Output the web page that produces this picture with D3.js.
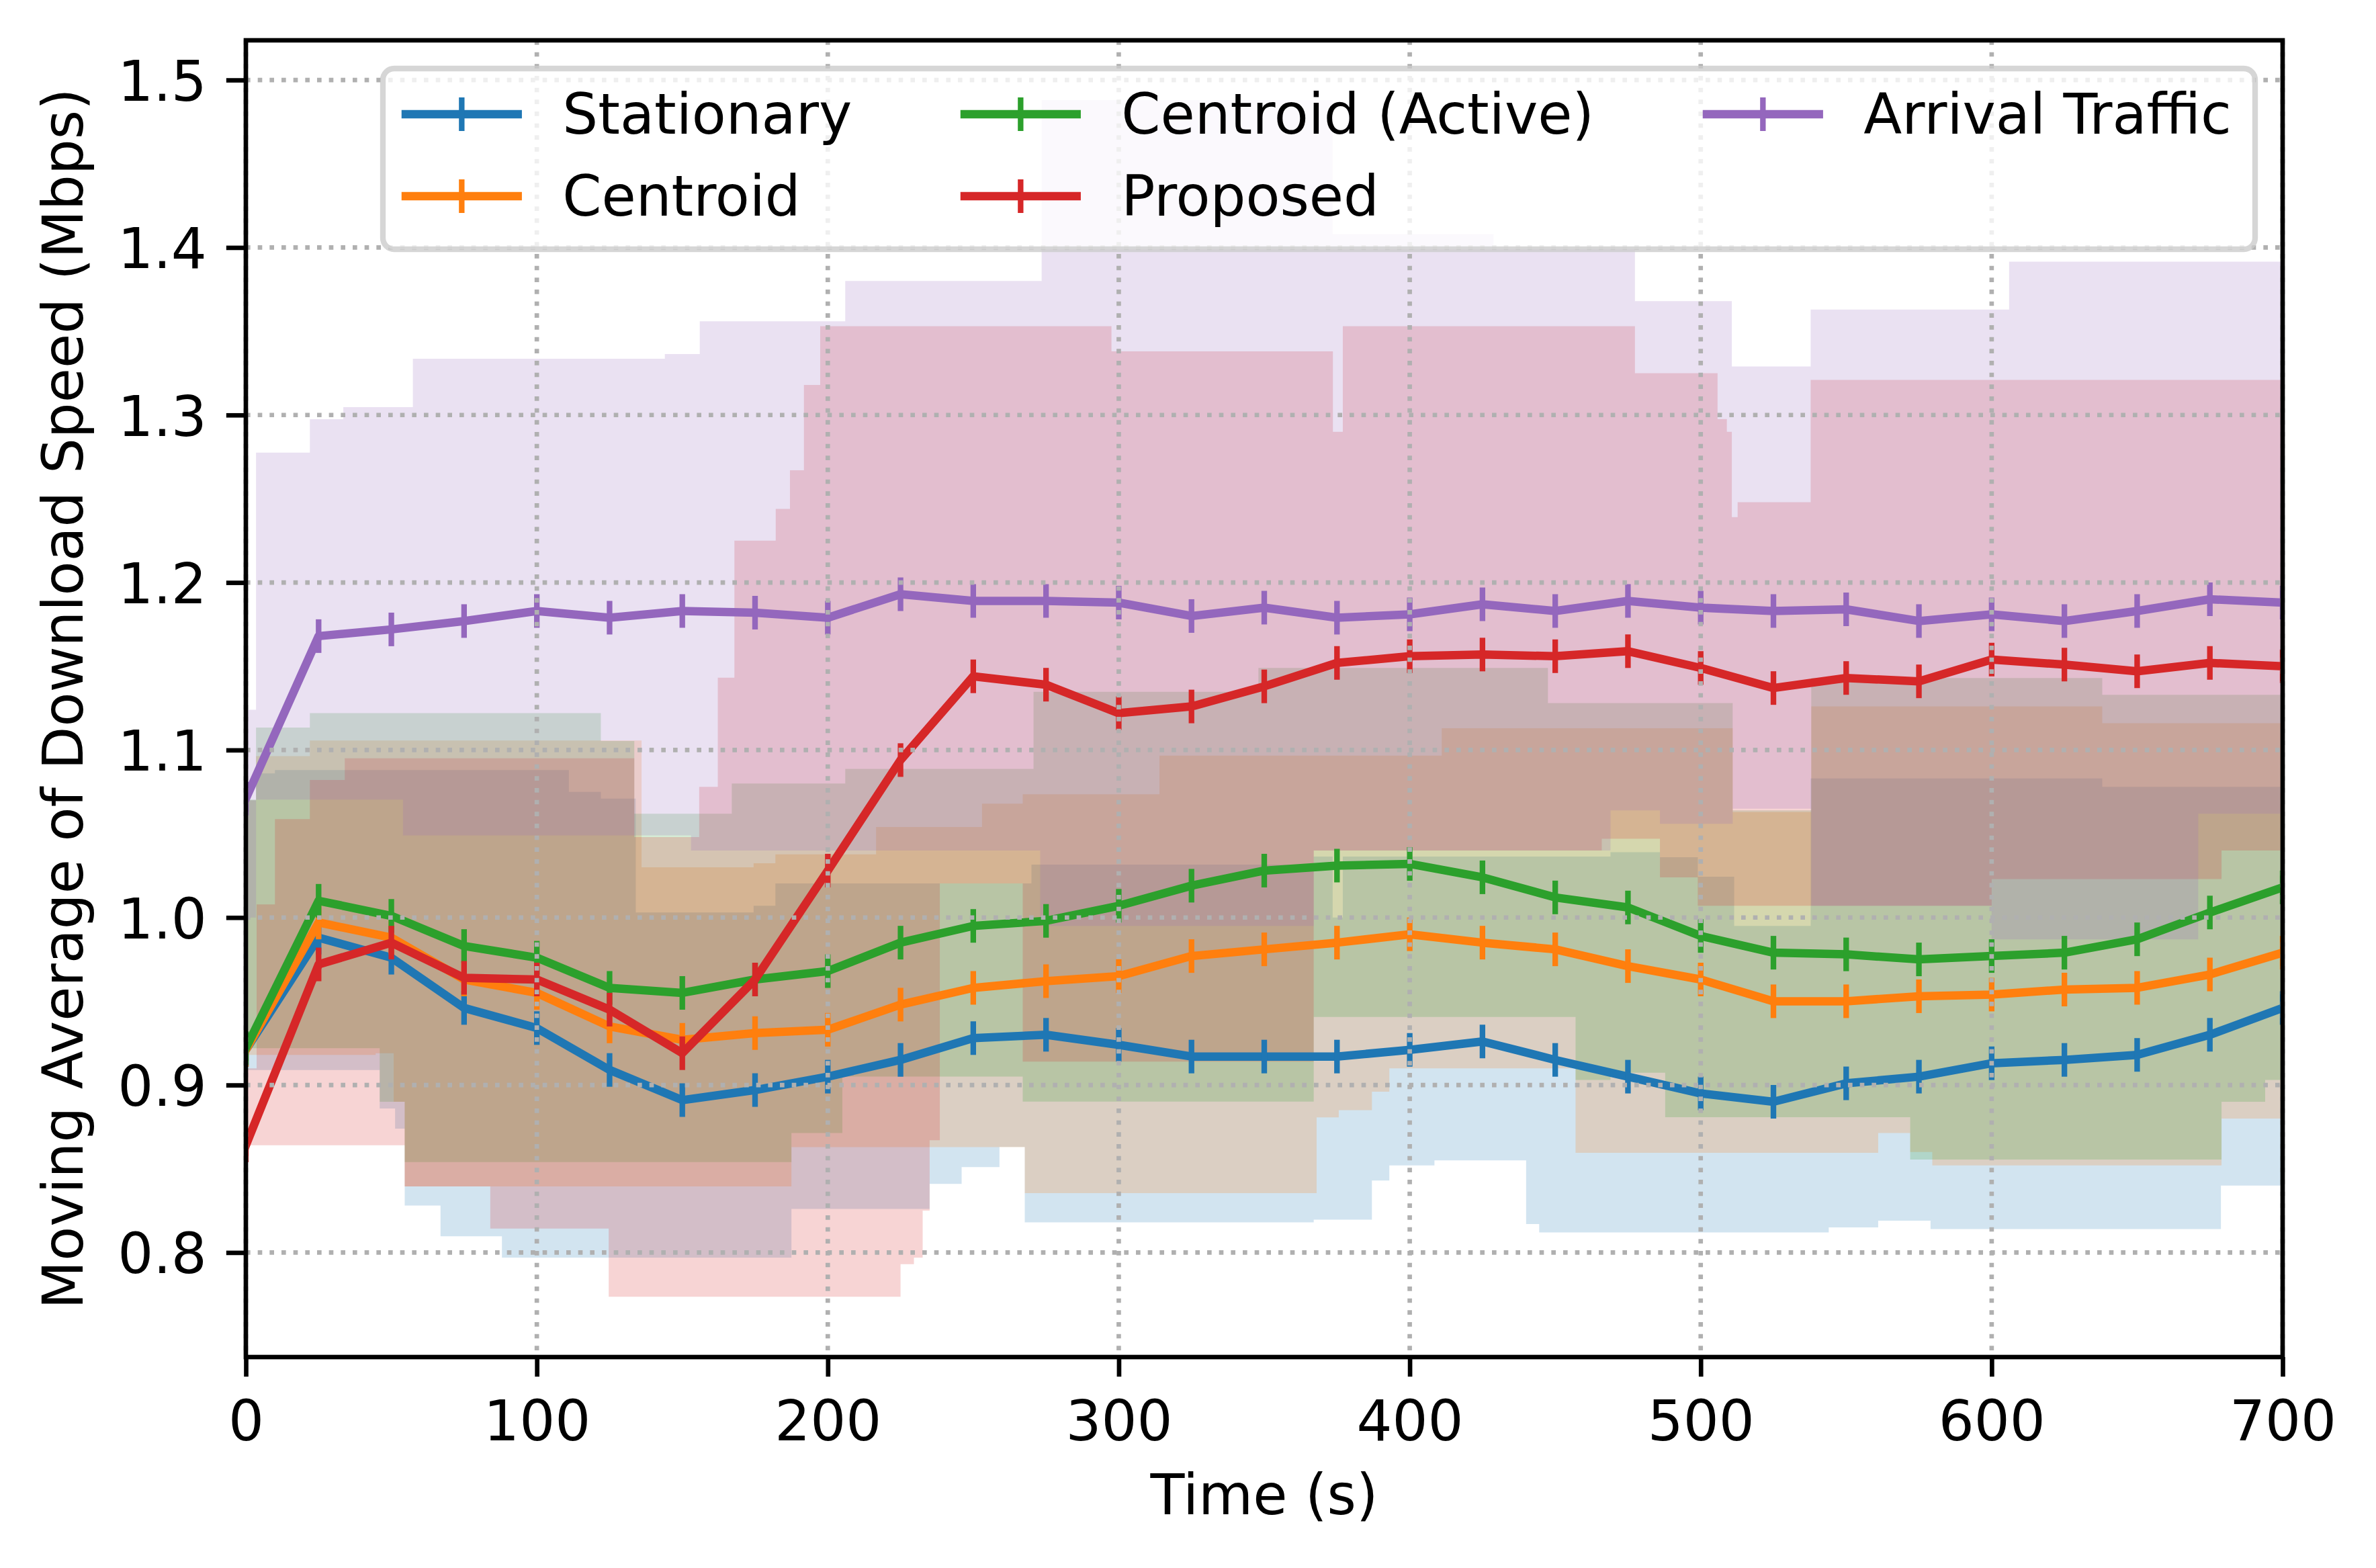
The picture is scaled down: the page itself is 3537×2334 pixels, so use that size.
<!DOCTYPE html>
<html><head><meta charset="utf-8">
<script src="https://cdn.jsdelivr.net/npm/d3@7"></script>
<style>html,body{margin:0;padding:0;background:#fff}svg{display:block}</style>
</head><body>
<svg id="chart" width="3537" height="2334"></svg>
<script>
// ---------- data ----------
const times = [0,25,50,75,100,125,150,175,200,225,250,275,300,325,350,375,400,425,450,475,500,525,550,575,600,625,650,675,700];
const seriesNames = ["Stationary","Centroid","Centroid (Active)","Proposed","Arrival Traffic"];
const seriesColors = ["#1f77b4","#ff7f0e","#2ca02c","#d62728","#9467bd"];
const xTicks = [0,100,200,300,400,500,600,700];
const yTicks = [0.8,0.9,1.0,1.1,1.2,1.3,1.4,1.5];
const yTickLabels = ["0.8","0.9","1.0","1.1","1.2","1.3","1.4","1.5"];

const stationary = [0.921,0.988,0.976,0.946,0.934,0.909,0.891,0.897,0.905,0.915,0.928,0.930,0.924,0.917,0.917,0.917,0.921,0.926,0.915,0.905,0.895,0.890,0.901,0.905,0.913,0.915,0.918,0.930,0.946];
const centroid   = [0.921,0.997,0.988,0.963,0.955,0.935,0.927,0.931,0.933,0.948,0.958,0.962,0.965,0.977,0.981,0.985,0.990,0.985,0.981,0.971,0.963,0.950,0.950,0.953,0.954,0.957,0.958,0.966,0.979];
const active     = [0.922,1.010,1.001,0.983,0.976,0.958,0.955,0.963,0.968,0.985,0.995,0.998,1.007,1.019,1.028,1.031,1.032,1.024,1.012,1.006,0.989,0.979,0.978,0.975,0.977,0.979,0.987,1.003,1.018];
const proposed   = [0.864,0.972,0.985,0.964,0.963,0.945,0.919,0.963,1.028,1.094,1.144,1.139,1.122,1.126,1.138,1.152,1.156,1.157,1.156,1.159,1.149,1.137,1.143,1.141,1.154,1.151,1.147,1.152,1.150];
const arrival    = [1.071,1.168,1.172,1.177,1.183,1.179,1.183,1.182,1.179,1.193,1.189,1.189,1.188,1.180,1.185,1.179,1.181,1.187,1.183,1.189,1.185,1.183,1.184,1.177,1.181,1.177,1.183,1.190,1.188];

// shaded ranges as step functions [time, value]
const stationaryUpper = [[0,1.07],[3.5,1.086],[10,1.088],[111,1.075],[122,1.071],[134,1.003],[174.5,1.007],[182,1.0204],[270,1.0316],[367,1.0364],[373.5,1.0],[377,1.0364],[469,1.039],[486,1.036],[499,1.0244],[511.5,0.995],[537.8,1.083],[638,1.078]];
const stationaryLower = [[0,0.909],[46,0.886],[51.3,0.874],[54.6,0.828],[66.9,0.8097],[88,0.797],[187.5,0.826],[235,0.841],[246,0.851],[259,0.863],[267.7,0.818],[367,0.8196],[387,0.843],[393,0.852],[408.5,0.855],[440,0.817],[444.5,0.812],[544,0.815],[561,0.819],[579,0.814],[678.8,0.840]];
const centroidUpper = [[0,1.07],[3.5,1.0964],[22,1.1057],[136,1.030],[174.5,1.0324],[182,1.0377],[216.6,1.054],[253,1.068],[267,1.0736],[314,1.0967],[411,1.113],[511,1.063],[538,1.126],[638,1.116]];
const centroidLower = [[0,0.918],[44.6,0.919],[50.8,0.89],[54.6,0.8395],[187.5,0.8629],[267.7,0.8355],[368,0.8807],[375.6,0.885],[387,0.896],[393,0.91],[457,0.8595],[561,0.8714],[572,0.86],[579.6,0.852],[679,0.88]];
const activeUpper = [[0,1.0704],[3.5,1.1134],[22,1.122],[122,1.1054],[133.5,1.062],[167,1.080],[206,1.0887],[270.7,1.1348],[348,1.149],[447.5,1.128],[511,1.064],[538,1.143],[638,1.133]];
const activeLower = [[0,0.922],[46,0.89],[54.6,0.854],[187.5,0.8714],[205,0.905],[267,0.8901],[367,0.9406],[457,0.903],[469,0.9074],[487.8,0.8808],[572,0.8555],[679,0.890],[694,0.903]];
const proposedUpper = [[0,0.91],[3.7,1.0078],[10,1.0588],[22,1.0821],[34,1.0951],[133.5,1.048],[155.8,1.078],[162.2,1.1432],[167.9,1.225],[182.1,1.244],[187,1.267],[191.8,1.318],[197.4,1.353],[297.5,1.338],[373.6,1.290],[377,1.353],[477.4,1.325],[505.8,1.2976],[509,1.290],[510.7,1.239],[512.7,1.248],[537.8,1.321]];
const proposedLower = [[0,0.864],[54.6,0.8395],[84,0.8143],[124.7,0.7736],[225,0.793],[229.6,0.797],[232.6,0.825],[235,0.867],[238.5,1.0204],[267,0.914],[367,1.040],[466,1.047],[486,1.024],[499,1.007],[600,1.023],[679,1.04]];
const arrivalUpper = [[0,1.124],[3.5,1.2775],[22,1.2975],[33.5,1.3047],[57.4,1.3336],[144,1.3364],[156,1.356],[206,1.380],[273.5,1.488],[373.5,1.408],[428.8,1.400],[477.4,1.368],[510.7,1.329],[537.8,1.363],[606,1.3915]];
const arrivalLower = [[0,1.0],[3.5,1.0704],[54,1.049],[153,1.040],[273,0.995],[367,1.040],[469,1.064],[486,1.056],[511,1.065],[538,1.007],[600,0.987],[671,1.062]];

// ---------- layout ----------
const W = 3537, H = 2334;
const L = 366, R = 3398, T = 60, B = 2020;
const PT = 600/72; // px per point
const FS = 10*PT;
const svg = d3.select("#chart");
svg.append("rect").attr("width",W).attr("height",H).attr("fill","#fff");

const x = d3.scaleLinear().domain([0,700]).range([L,R]);
const y = d3.scaleLinear().domain([0.7376,1.5237]).range([B,T]);

svg.append("clipPath").attr("id","clip").append("rect")
  .attr("x",L).attr("y",T).attr("width",R-L).attr("height",B-T);

const plot = svg.append("g").attr("clip-path","url(#clip)");

// bands
function stepVal(steps,t){let v=steps[0][1];for(const s of steps){if(s[0]<=t+1e-9)v=s[1];else break;}return v;}
const bandDefs = [
  [stationaryLower,stationaryUpper],[centroidLower,centroidUpper],[activeLower,activeUpper],
  [proposedLower,proposedUpper],[arrivalLower,arrivalUpper]
];
const area = d3.area().curve(d3.curveStepAfter)
  .x(d=>x(d.t)).y0(d=>y(d.lo)).y1(d=>y(d.hi));
bandDefs.forEach((bd,i)=>{
  const ts = Array.from(new Set(bd[0].map(d=>d[0]).concat(bd[1].map(d=>d[0])).concat([700]))).sort((a,b)=>a-b);
  const pts = ts.map(t=>({t:t,lo:stepVal(bd[0],t),hi:stepVal(bd[1],t)}));
  plot.append("path").attr("d",area(pts)).attr("fill",seriesColors[i]).attr("fill-opacity",0.2).attr("stroke","none");
});

// grid
const grid = svg.append("g");
xTicks.forEach(t=>grid.append("line").attr("x1",x(t)).attr("x2",x(t)).attr("y1",T).attr("y2",B)
  .attr("stroke","#b0b0b0").attr("stroke-width",0.8*PT).attr("stroke-dasharray",`${0.8*PT} ${1.32*PT}`));
yTicks.forEach(v=>grid.append("line").attr("x1",L).attr("x2",R).attr("y1",y(v)).attr("y2",y(v))
  .attr("stroke","#b0b0b0").attr("stroke-width",0.8*PT).attr("stroke-dasharray",`${0.8*PT} ${1.32*PT}`));

// lines + markers
const allSeries = [stationary,centroid,active,proposed,arrival];
const line = d3.line().x((d,i)=>x(times[i])).y(d=>y(d));
const MS = 6*PT/2;
allSeries.forEach((s,i)=>{
  plot.append("path").attr("d",line(s)).attr("fill","none").attr("stroke",seriesColors[i])
    .attr("stroke-width",1.5*PT).attr("stroke-linejoin","round").attr("stroke-linecap","square");
  const g = plot.append("g").attr("stroke",seriesColors[i]).attr("stroke-width",1.0*PT);
  s.forEach((v,j)=>{
    const cx=x(times[j]), cy=y(v);
    g.append("line").attr("x1",cx).attr("x2",cx).attr("y1",cy-MS).attr("y2",cy+MS);
  });
});

// axes
const font = "'DejaVu Sans', sans-serif";
const xAxis = d3.axisBottom(x).tickValues(xTicks).tickSize(3.5*PT).tickPadding(36).tickFormat(d3.format("d"));
const yAxis = d3.axisLeft(y).tickValues(yTicks).tickSize(3.5*PT).tickPadding(3.5*PT).tickFormat((d,i)=>yTickLabels[i]);
const gx = svg.append("g").attr("transform",`translate(0,${B})`).call(xAxis);
const gy = svg.append("g").attr("transform",`translate(${L},0)`).call(yAxis);
[gx,gy].forEach(g=>{
  g.select(".domain").remove();
  g.selectAll(".tick line").attr("stroke","#000").attr("stroke-width",0.8*PT);
  g.selectAll(".tick text").attr("fill","#000").attr("font-family",font).attr("font-size",FS);
});
gy.selectAll(".tick text").attr("dy","0.3645em");

svg.append("rect").attr("x",L).attr("y",T).attr("width",R-L).attr("height",B-T)
  .attr("fill","none").attr("stroke","#000").attr("stroke-width",0.8*PT).attr("stroke-linejoin","miter");

svg.append("text").attr("x",(L+R)/2).attr("y",2254).attr("text-anchor","middle")
  .attr("font-family",font).attr("font-size",FS).attr("fill","#000").text("Time (s)");
svg.append("text").attr("transform",`translate(123,${(T+B)/2}) rotate(-90)`).attr("text-anchor","middle")
  .attr("font-family",font).attr("font-size",FS).attr("fill","#000").text("Moving Average of Download Speed (Mbps)");

// legend
const leg = svg.append("g");
leg.append("rect").attr("x",570).attr("y",102).attr("width",3357-570).attr("height",371-102)
  .attr("rx",0.2*FS).attr("ry",0.2*FS).attr("fill","#fff").attr("fill-opacity",0.8)
  .attr("stroke","#cccccc").attr("stroke-opacity",0.8).attr("stroke-width",1.0*PT);
const colX = [604,1436,2541];
const rowY = [170,292];
const legendOrder = [[0,0,0],[1,0,1],[2,1,0],[3,1,1],[4,2,0]];
legendOrder.forEach(([si,c,r])=>{
  const x0=colX[c], x1=x0+2*FS, cy=rowY[r], cx=(x0+x1)/2;
  leg.append("line").attr("x1",x0).attr("x2",x1).attr("y1",cy).attr("y2",cy)
    .attr("stroke",seriesColors[si]).attr("stroke-width",1.5*PT).attr("stroke-linecap","square");
  leg.append("line").attr("x1",cx).attr("x2",cx).attr("y1",cy-MS).attr("y2",cy+MS)
    .attr("stroke",seriesColors[si]).attr("stroke-width",1.0*PT);
  leg.append("text").attr("x",x1+0.8*FS).attr("y",cy+29).attr("font-family",font).attr("font-size",FS)
    .attr("fill","#000").text(seriesNames[si]);
});
</script>
</body></html>
